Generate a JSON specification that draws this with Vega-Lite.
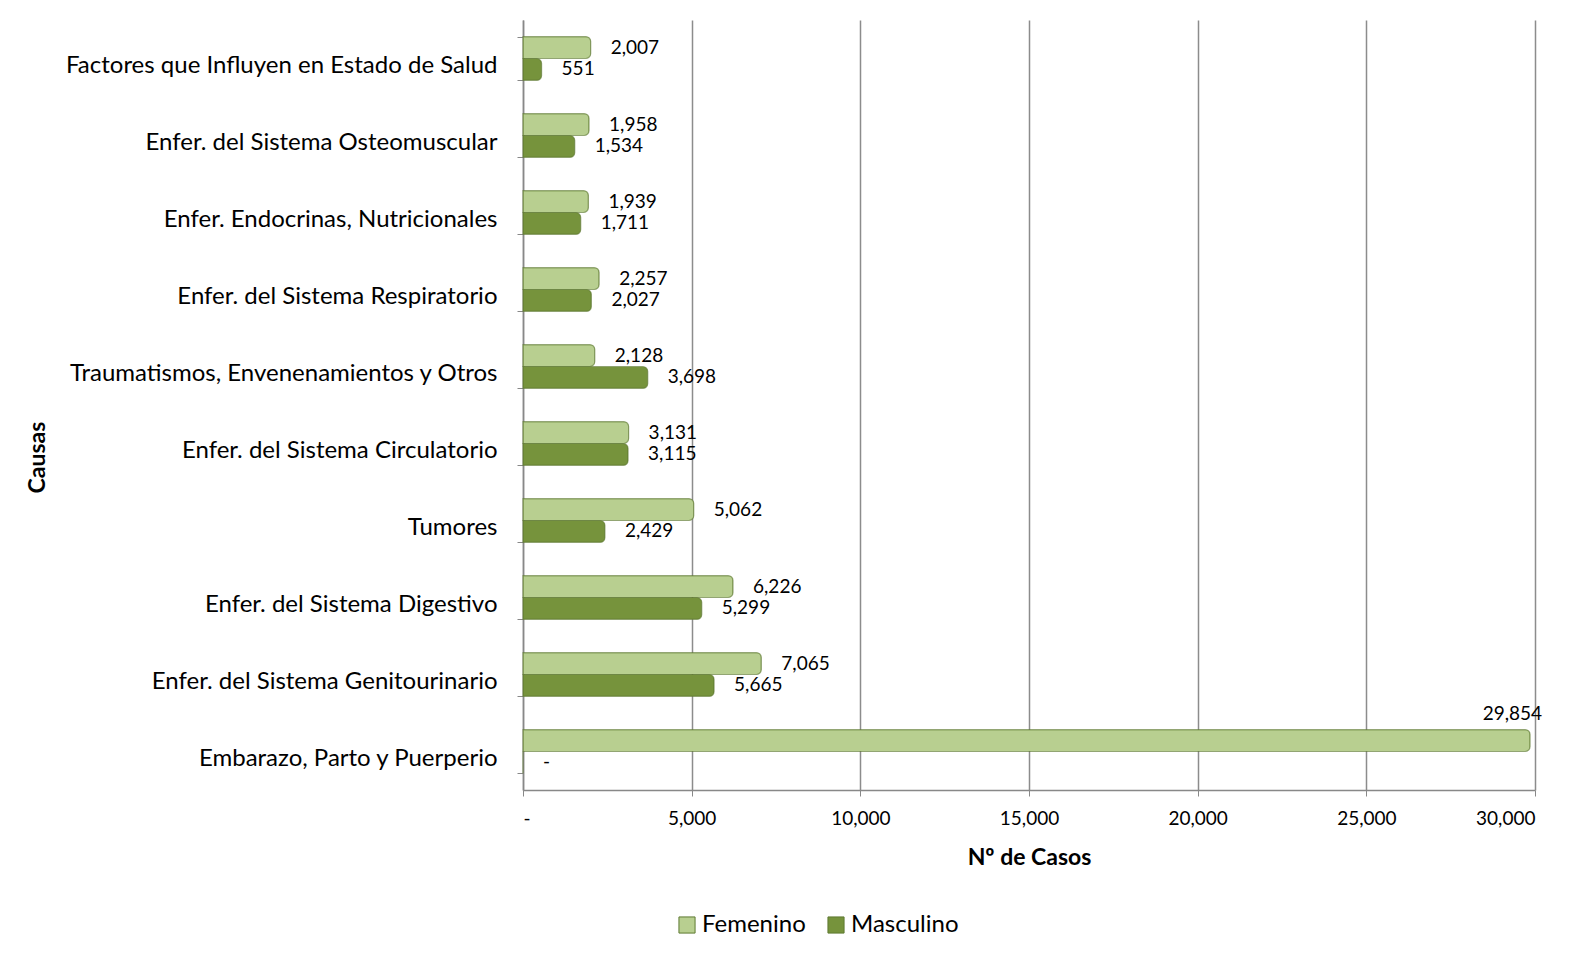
{
  "$schema": "https://vega.github.io/schema/vega-lite/v6.json",
  "autosize": "none",
  "width": 1012,
  "height": 770,
  "padding": {"left": 523, "top": 20, "right": 60, "bottom": 164},
  "background": "white",
  "config": {"font": "Lato", "view": {"stroke": null}},
  "data": {"values": [
    {"causa": "Factores que Influyen en Estado de Salud", "sexo": "Femenino", "v": 2007},
    {"causa": "Factores que Influyen en Estado de Salud", "sexo": "Masculino", "v": 551},
    {"causa": "Enfer. del Sistema Osteomuscular", "sexo": "Femenino", "v": 1958},
    {"causa": "Enfer. del Sistema Osteomuscular", "sexo": "Masculino", "v": 1534},
    {"causa": "Enfer. Endocrinas, Nutricionales", "sexo": "Femenino", "v": 1939},
    {"causa": "Enfer. Endocrinas, Nutricionales", "sexo": "Masculino", "v": 1711},
    {"causa": "Enfer. del Sistema Respiratorio", "sexo": "Femenino", "v": 2257},
    {"causa": "Enfer. del Sistema Respiratorio", "sexo": "Masculino", "v": 2027},
    {"causa": "Traumatismos, Envenenamientos y Otros", "sexo": "Femenino", "v": 2128},
    {"causa": "Traumatismos, Envenenamientos y Otros", "sexo": "Masculino", "v": 3698},
    {"causa": "Enfer. del Sistema Circulatorio", "sexo": "Femenino", "v": 3131},
    {"causa": "Enfer. del Sistema Circulatorio", "sexo": "Masculino", "v": 3115},
    {"causa": "Tumores", "sexo": "Femenino", "v": 5062},
    {"causa": "Tumores", "sexo": "Masculino", "v": 2429},
    {"causa": "Enfer. del Sistema Digestivo", "sexo": "Femenino", "v": 6226},
    {"causa": "Enfer. del Sistema Digestivo", "sexo": "Masculino", "v": 5299},
    {"causa": "Enfer. del Sistema Genitourinario", "sexo": "Femenino", "v": 7065},
    {"causa": "Enfer. del Sistema Genitourinario", "sexo": "Masculino", "v": 5665},
    {"causa": "Embarazo, Parto y Puerperio", "sexo": "Femenino", "v": 29854},
    {"causa": "Embarazo, Parto y Puerperio", "sexo": "Masculino", "v": 0}
  ]},
  "encoding": {
    "y": {
      "field": "causa", "type": "nominal", "sort": null,
      "scale": {"paddingInner": 0.43, "paddingOuter": 0.215},
      "axis": {
        "title": "Causas", "titleFontSize": 23, "titleFontWeight": "bold", "titleColor": "black",
        "titleAngle": 270, "titleX": -486, "titleY": 437, "titleAlign": "center", "titleBaseline": "middle",
        "labelFontSize": 24, "labelColor": "black", "labelPadding": 20, "labelLimit": 600, "labelOffset": 7,
        "tickBand": "extent", "tickSize": 6, "tickColor": "#888", "domainColor": "#888", "domainWidth": 1.5,
        "grid": false
      }
    },
    "yOffset": {"field": "sexo", "type": "nominal", "sort": ["Femenino", "Masculino"]},
    "x": {
      "field": "v", "type": "quantitative",
      "scale": {"domain": [0, 30000], "nice": false},
      "axis": {
        "title": "Nº de Casos", "titleFontSize": 23, "titleFontWeight": "bold", "titleColor": "black", "titlePadding": 18,
        "labelFontSize": 19, "labelColor": "black", "labelPadding": 13, "values": [0, 5000, 10000, 15000, 20000, 25000, 30000],
        "labelExpr": "datum.value === 0 ? '-' : format(datum.value, ',')",
        "grid": true, "gridColor": "#8c8c8c", "gridWidth": 1.5,
        "tickColor": "#888", "tickSize": 6, "domainColor": "#888", "domainWidth": 1.5
      }
    }
  },
  "layer": [
    {
      "mark": {"type": "bar", "cornerRadiusEnd": 5, "strokeWidth": 1.2, "stroke": "#5f7a32", "strokeOpacity": 0.6},
      "encoding": {
        "color": {
          "field": "sexo", "type": "nominal",
          "scale": {"domain": ["Femenino", "Masculino"], "range": ["#b8cf90", "#76933c"]},
          "legend": {
            "title": null, "orient": "none", "direction": "horizontal", "legendX": 152, "legendY": 893,
            "symbolType": "square", "symbolSize": 260, "symbolStrokeColor": "#5f7a32", "symbolStrokeWidth": 1,
            "labelFontSize": 24, "labelColor": "black", "columnPadding": 18, "labelOffset": 3
          }
        }
      }
    },
    {
      "transform": [{"filter": "datum.v < 25000"}],
      "mark": {"type": "text", "align": "left", "dx": 20, "fontSize": 19, "color": "black"},
      "encoding": {
        "text": {"condition": {"test": "datum.v === 0", "value": "-"}, "field": "v", "type": "quantitative", "format": ","}
      }
    },
    {
      "transform": [{"filter": "datum.v >= 25000"}],
      "mark": {"type": "text", "align": "right", "dx": 12, "dy": -27, "fontSize": 19, "color": "black"},
      "encoding": {
        "text": {"field": "v", "type": "quantitative", "format": ","}
      }
    }
  ]
}
